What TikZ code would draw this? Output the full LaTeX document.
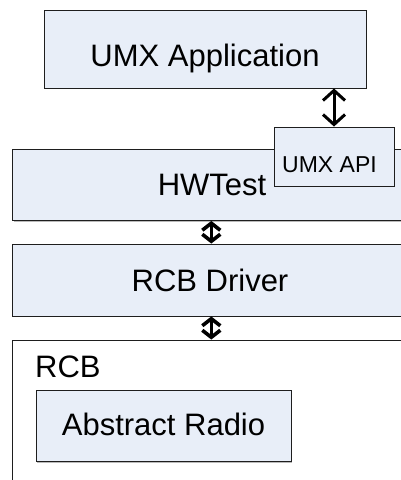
\documentclass[tikz,border=0pt]{standalone}
\usepackage{fontspec}
\setmainfont{Liberation Sans}
\usetikzlibrary{arrows.meta,shadows}
\definecolor{boxfill}{RGB}{232,238,248}
\definecolor{boxline}{RGB}{30,30,30}
\begin{document}
\begin{tikzpicture}[x=1pt,y=-1pt,
  box/.style={draw=boxline, line width=0.9pt, fill=boxfill, inner sep=0pt,
    drop shadow={shadow xshift=1.2pt, shadow yshift=-1.2pt, fill=black!45, opacity=0.6}},
  wbox/.style={draw=boxline, line width=0.9pt, fill=white, inner sep=0pt},
  lbl/.style={font=\fontsize{31}{36}\selectfont, inner sep=0pt, anchor=base},
  slbl/.style={font=\fontsize{23}{27}\selectfont, inner sep=0pt, anchor=base},
  bigdbl/.style={line width=3pt, {Straight Barb[length=10pt,width=22pt]}-{Straight Barb[length=10pt,width=22pt]}},
  smdbl/.style={line width=3.6pt, {Straight Barb[length=7pt,width=18pt]}-{Straight Barb[length=7pt,width=18pt]}}
]
\useasboundingbox (0,0) rectangle (401,480);
\clip (0,0) rectangle (401,480);
% boxes
\node[box, minimum width=322pt, minimum height=78pt] (app) at (205,49) {};
\node[lbl] (appt) at (205,66.5) {UMX Application};
\node[box, minimum width=398pt, minimum height=71pt] (hw) at (211.3,185) {};
\node[lbl] (hwt) at (212,195) {HWTest};
\node[box, minimum width=120pt, minimum height=59pt] (api) at (334,156.5) {};
\node[slbl] (apit) at (329.5,172) {UMX API};
\node[box, minimum width=398pt, minimum height=72pt] (drv) at (211.3,280) {};
\node[lbl] (drvt) at (210,291) {RCB Driver};
\node[wbox, minimum width=398pt, minimum height=160pt] (rcb) at (211.3,420) {};
\node[lbl, anchor=base west] (rcbt) at (35,377) {RCB};
\node[box, minimum width=255pt, minimum height=71pt] (ar) at (163.5,426) {};
\node[lbl] (art) at (163.5,435) {Abstract Radio};
% connectors
\draw[bigdbl] (app.south -| api.north) -- (api.north);
\draw[smdbl] (hw.south) -- (drv.north);
\draw[smdbl] (drv.south) -- (rcb.north);
\end{tikzpicture}
\end{document}
